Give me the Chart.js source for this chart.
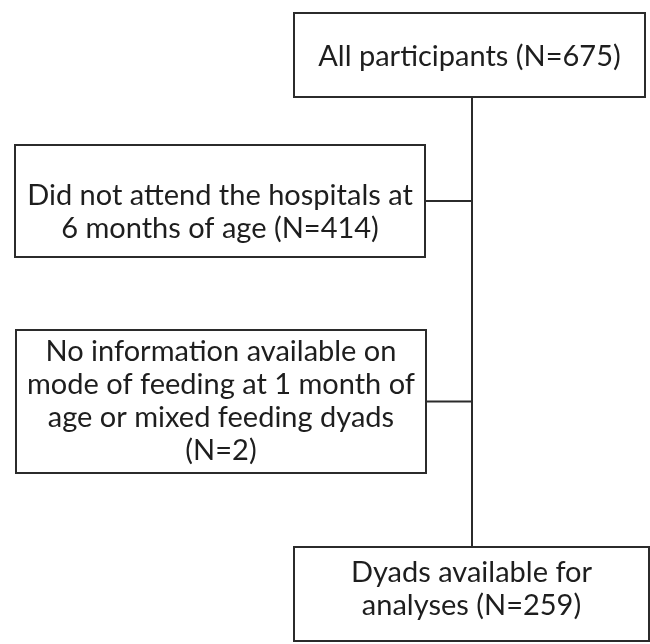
<!DOCTYPE html>
<html>
<head>
<meta charset="utf-8">
<script src="https://cdn.jsdelivr.net/npm/chart.js@4.4.1/dist/chart.umd.min.js"></script>
<style>
  html, body { margin: 0; padding: 0; background: #fff; }
  #wrap { width: 650px; height: 644px; position: relative; }
</style>
</head>
<body>
<div id="wrap"><canvas id="flow"></canvas></div>
<script>
// Flow data
const stepNames = ['All participants', 'Excluded: no 6 month visit', 'Excluded: feeding info', 'Analysed'];
const stepCounts = [675, 414, 2, 259];
const stepLines = [
  ['All participants (N=' + stepCounts[0] + ')'],
  ['Did not attend the hospitals at', '6 months of age (N=' + stepCounts[1] + ')'],
  ['No information available on', 'mode of feeding at 1 month of', 'age or mixed feeding dyads', '(N=' + stepCounts[2] + ')'],
  ['Dyads available for', 'analyses (N=' + stepCounts[3] + ')']
];

// layout (in scale units, x 0..650, y 0..644 top-down)
const boxes = [
  { x0: 294, x1: 645, y0: 13, y1: 97, base: 66 },
  { x0: 15, x1: 425, y0: 145, y1: 257, base: 205 - 0 },
  { x0: 16, x1: 426, y0: 330, y1: 473, base: 361 },
  { x0: 294, x1: 649, y0: 547, y1: 641, base: 582 }
];
const trunkX = 472;
const lineGap = 33;

const flowPlugin = {
  id: 'flowBoxes',
  afterDraw(chart) {
    const ctx = chart.ctx;
    const sx = chart.scales.x, sy = chart.scales.y;
    const px = v => sx.getPixelForValue(v);
    const py = v => sy.getPixelForValue(v);
    ctx.save();
    ctx.strokeStyle = '#2b2b2b';
    ctx.lineWidth = 2;

    // trunk: from first box to last box
    ctx.beginPath();
    ctx.moveTo(px(trunkX), py(boxes[0].y1));
    ctx.lineTo(px(trunkX), py(boxes[3].y0));
    ctx.stroke();

    // branches to exclusion boxes
    [1, 2].forEach(i => {
      const b = boxes[i];
      const mid = (b.y0 + b.y1) / 2;
      ctx.beginPath();
      ctx.moveTo(px(b.x1), py(mid));
      ctx.lineTo(px(trunkX), py(mid));
      ctx.stroke();
    });

    boxes.forEach((b, i) => {
      ctx.fillStyle = '#fff';
      ctx.fillRect(px(b.x0), py(b.y0), px(b.x1) - px(b.x0), py(b.y1) - py(b.y0));
      ctx.strokeRect(px(b.x0), py(b.y0), px(b.x1) - px(b.x0), py(b.y1) - py(b.y0));
      ctx.fillStyle = '#1e1e1e';
      ctx.font = '29px Lato';
      ctx.textAlign = 'center';
      ctx.textBaseline = 'alphabetic';
      const cx = px((b.x0 + b.x1) / 2);
      stepLines[i].forEach((t, k) => {
        ctx.fillText(t, cx, py(b.base + k * lineGap));
      });
    });
    ctx.restore();
  }
};

new Chart(document.getElementById('flow').getContext('2d'), {
  type: 'scatter',
  data: {
    labels: stepNames,
    datasets: [{ data: [], pointRadius: 0 }]
  },
  options: {
    responsive: true,
    maintainAspectRatio: false,
    animation: false,
    layout: { padding: 0 },
    plugins: { legend: { display: false }, tooltip: { enabled: false } },
    scales: {
      x: { type: 'linear', min: 0, max: 650, display: false },
      y: { type: 'linear', min: 0, max: 644, reverse: true, display: false }
    }
  },
  plugins: [flowPlugin]
});
</script>
</body>
</html>
